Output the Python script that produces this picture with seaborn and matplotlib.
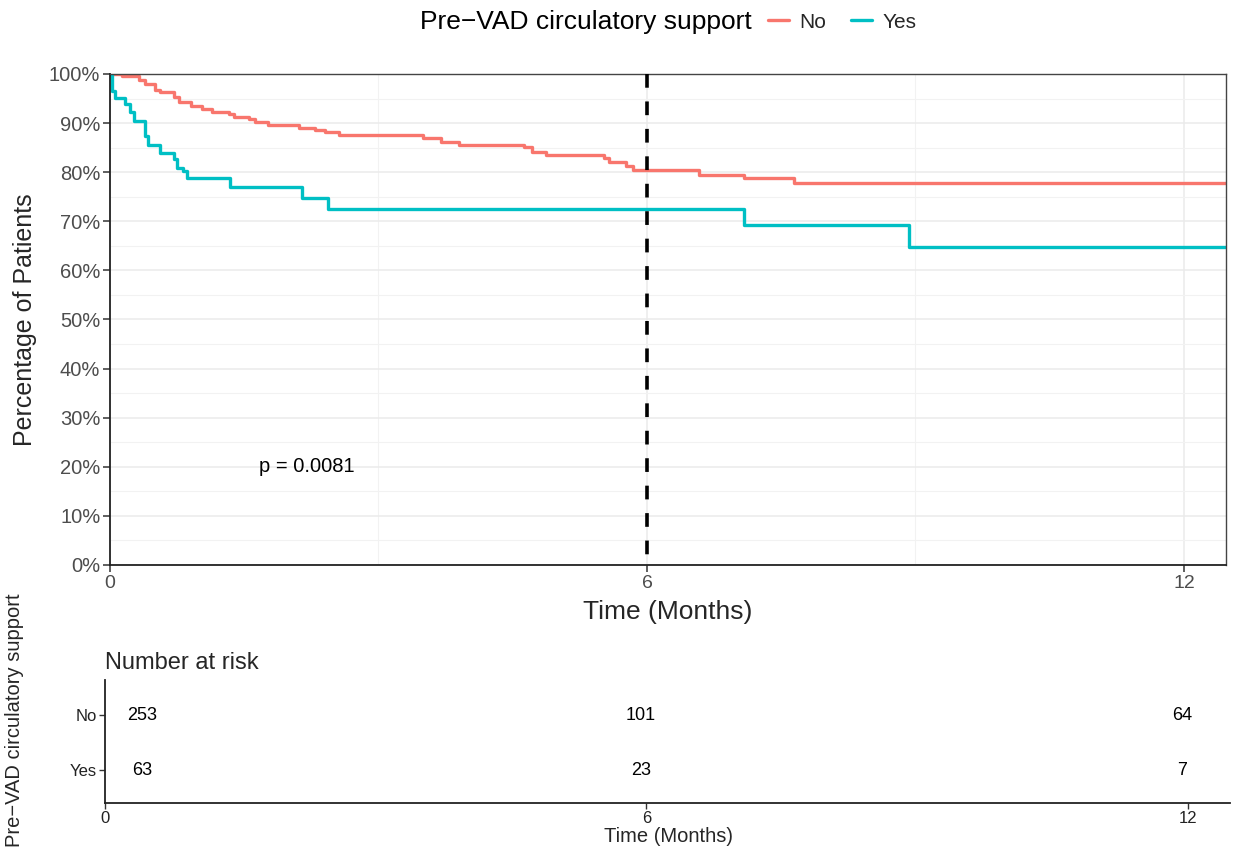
import matplotlib
matplotlib.use("Agg")
import matplotlib.pyplot as plt
import seaborn as sns
import pandas as pd
import numpy as np
from matplotlib.ticker import FixedLocator, PercentFormatter

# ---------------- data ----------------
no_times = [0, 0.13, 0.32, 0.39, 0.50, 0.56, 0.71, 0.77, 0.91, 1.03, 1.14, 1.33, 1.39,
            1.55, 1.62, 1.77, 2.11, 2.29, 2.40, 2.56, 3.50, 3.70, 3.90, 4.63, 4.71,
            4.87, 5.52, 5.58, 5.77, 5.84, 6.58, 7.08, 7.64, 12.47]
no_surv = [100, 99.5, 98.8, 98.0, 96.7, 96.3, 95.4, 94.3, 93.5, 92.8, 92.3, 91.8, 91.3,
           90.8, 90.2, 89.6, 89.0, 88.6, 88.2, 87.6, 87.0, 86.2, 85.5, 85.1, 84.2,
           83.5, 82.8, 82.1, 81.3, 80.4, 79.4, 78.8, 77.7, 77.7]
yes_times = [0, 0.02, 0.06, 0.17, 0.22, 0.27, 0.39, 0.43, 0.56, 0.71, 0.75, 0.82, 0.86,
             1.34, 2.14, 2.44, 7.08, 8.93, 12.47]
yes_surv = [100, 96.5, 95.1, 93.9, 92.3, 90.4, 87.4, 85.6, 83.9, 82.6, 80.9, 80.3, 78.9,
            76.9, 74.8, 72.6, 69.2, 64.8, 64.8]
groups = ["No", "Yes"]
risk_times = [0, 6, 12]
risk_no = [253, 101, 64]
risk_yes = [63, 23, 7]
p_text = "p = 0.0081"
cutoff_time = 6

colors = {"No": "#F8766D", "Yes": "#00BFC4"}

df = pd.concat([
    pd.DataFrame({"time": no_times, "surv": no_surv, "group": "No"}),
    pd.DataFrame({"time": yes_times, "surv": yes_surv, "group": "Yes"}),
], ignore_index=True)

sns.set_theme(style="white")
plt.rcParams["font.family"] = ["Liberation Sans", "DejaVu Sans"]

W, H = 1234, 856
fig = plt.figure(figsize=(W / 100, H / 100), dpi=100)

def rect(x0, y0, x1, y1):
    return [x0 / W, 1 - y1 / H, (x1 - x0) / W, (y1 - y0) / H]

ax = fig.add_axes(rect(110, 74, 1226, 565))
sns.lineplot(data=df, x="time", y="surv", hue="group", hue_order=groups,
             palette=colors, drawstyle="steps-post", estimator=None,
             linewidth=2.4, ax=ax, legend=True)

ax.set_xlim(0, 12.47)
ax.set_ylim(0, 100)
ax.xaxis.set_major_locator(FixedLocator([0, 6, 12]))
ax.xaxis.set_minor_locator(FixedLocator([3, 9]))
ax.yaxis.set_major_locator(FixedLocator(np.arange(0, 101, 10)))
ax.yaxis.set_minor_locator(FixedLocator(np.arange(5, 100, 10)))
ax.yaxis.set_major_formatter(PercentFormatter(decimals=0))
ax.grid(which="major", color="#EBEBEB", linewidth=1.1)
ax.grid(which="minor", color="#F2F2F2", linewidth=0.8)
ax.set_axisbelow(True)
ax.tick_params(axis="both", which="major", direction="out", length=5, width=1.1,
               color="#333333", labelsize=14, labelcolor="#4D4D4D", pad=2, left=True, bottom=True)
ax.tick_params(axis="y", labelsize=14.5)
ax.tick_params(which="minor", length=0)
for s in ["left", "bottom"]:
    ax.spines[s].set_color("#222222")
    ax.spines[s].set_linewidth(1.3)
for s in ["top", "right"]:
    ax.spines[s].set_color("#444444")
    ax.spines[s].set_linewidth(1.0)
ax.set_xlabel("")
ax.set_ylabel("")

ax.axvline(cutoff_time, ymin=1, ymax=0, color="black", linewidth=2.6,
           linestyle=(0, (3.8, 3.8)), zorder=3)
ax.text(1.665, 20, p_text, ha="left", va="center", fontsize=14.5, color="black")

handles, labels = ax.get_legend_handles_labels()
ax.get_legend().remove()
fig.text(420 / W, 1 - 22 / H, "Pre\u2212VAD circulatory support", ha="left", va="center",
         fontsize=19, color="black")
fig.legend(handles, labels, loc="center left", bbox_to_anchor=(768 / W, 1 - 22 / H),
           ncol=2, frameon=False, fontsize=15, handlelength=1.0, handletextpad=0.5,
           columnspacing=1.2, borderaxespad=0, borderpad=0)

fig.text(668 / W, 1 - 612 / H, "Time (Months)", ha="center", va="center", fontsize=19)
fig.text(25 / W, 1 - 320 / H, "Percentage of Patients", ha="center", va="center",
         rotation=90, fontsize=18)

# ---------------- risk table ----------------
axr = fig.add_axes(rect(105, 680, 1230, 803))
axr.set_xlim(0, 12.47)
axr.set_ylim(-0.6, 1.637)
col_shift = [0.41, -0.06, -0.06]
for t, sh, n_no, n_yes in zip(risk_times, col_shift, risk_no, risk_yes):
    axr.text(t + sh, 1, str(n_no), ha="center", va="center", fontsize=13, color="black")
    axr.text(t + sh, 0, str(n_yes), ha="center", va="center", fontsize=13, color="black")
axr.set_yticks([1, 0])
axr.set_yticklabels(groups)
axr.set_xticks(risk_times)
axr.grid(False)
axr.set_facecolor("white")
for s in ["top", "right"]:
    axr.spines[s].set_visible(False)
for s in ["left", "bottom"]:
    axr.spines[s].set_color("#222222")
    axr.spines[s].set_linewidth(1.3)
axr.tick_params(axis="both", direction="out", length=4, width=1.0, color="#333333",
                labelsize=12, labelcolor="#222222", pad=2, left=True, bottom=True)
axr.set_title("Number at risk", loc="left", fontsize=17, pad=8, x=0.0)
fig.text(668 / W, 1 - 836 / H, "Time (Months)", ha="center", va="center", fontsize=14.5)
fig.text(15 / W, 1 - 720 / H, "Pre\u2212VAD circulatory support", ha="center", va="center",
         rotation=90, fontsize=14.5)

fig.savefig("out.png", dpi=100, facecolor="white")
